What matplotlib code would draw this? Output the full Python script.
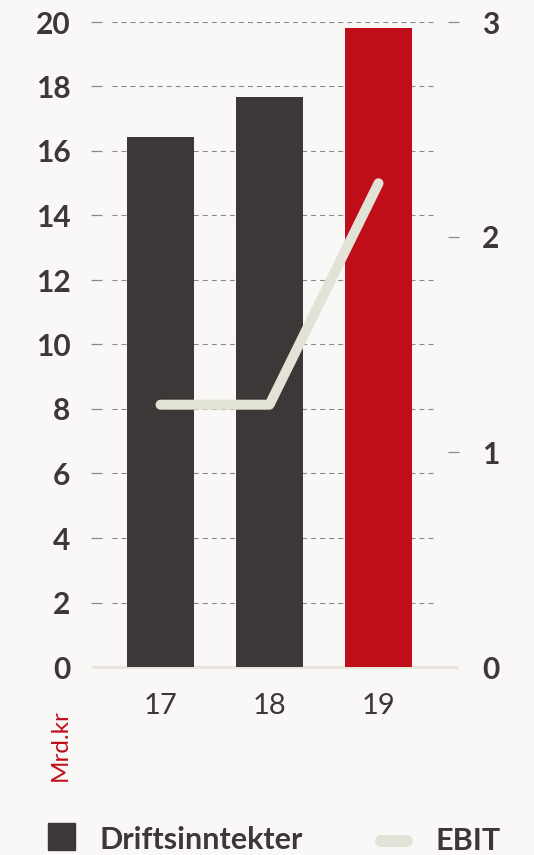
import matplotlib
matplotlib.use("Agg")
import matplotlib.pyplot as plt
from matplotlib.transforms import blended_transform_factory
from matplotlib.patches import Rectangle
from matplotlib.lines import Line2D

# Data
years = ["17", "18", "19"]
revenue = [16.43, 17.67, 19.81]          # Driftsinntekter, Mrd.kr (left axis)
ebit = [1.22, 1.22, 2.25]                # EBIT, Mrd.kr (right axis)
left_ticks = [0, 2, 4, 6, 8, 10, 12, 14, 16, 18, 20]
right_ticks = [0, 1, 2, 3]

BG = "#f9f8f6"
DARK = "#3d3737"
RED = "#c00d1a"
LINE = "#e3e2d6"
GRID = "#8c8a88"
BASE = "#e9e7dd"

plt.rcParams["font.family"] = ["Lato", "DejaVu Sans"]
plt.rcParams["lines.scale_dashes"] = False

W, H = 534, 855
fig = plt.figure(figsize=(W / 100, H / 100), dpi=100, facecolor=BG)

ax_l, ax_r, ax_b, ax_t = 112, 435, 667, 22
ax = fig.add_axes([ax_l / W, (H - ax_b) / H, (ax_r - ax_l) / W, (ax_b - ax_t) / H])
ax.set_facecolor(BG)
ax.set_xlim(-0.445, 2.518)
ax.set_ylim(0, 20)
for s in ax.spines.values():
    s.set_visible(False)

x = list(range(len(years)))
colors = [DARK, DARK, RED]
ax.bar(x, revenue, width=0.615, color=colors, zorder=3)

# dashed gridlines behind the bars
for v in left_ticks[1:]:
    ax.axhline(v, color=GRID, lw=0.8, dashes=(3.6, 2.9), zorder=1)

trans = blended_transform_factory(ax.transAxes, ax.transData)
# short tick dashes on both sides
for v in left_ticks[1:]:
    ax.plot([-0.065, -0.031], [v, v], transform=trans, color=GRID, lw=0.9,
            clip_on=False, solid_capstyle="butt", zorder=1)
for v in right_ticks[1:]:
    ax.plot([1.040, 1.074], [v * 20 / 3, v * 20 / 3], transform=trans, color=GRID,
            lw=0.9, clip_on=False, solid_capstyle="butt", zorder=1)
# baseline
ax.plot([-0.065, 1.071], [0, 0], transform=trans, color=BASE, lw=2.3,
        clip_on=False, solid_capstyle="butt", zorder=2)

ax.set_yticks(left_ticks)
ax.set_yticklabels([str(t) for t in left_ticks], fontsize=21.5, fontweight="bold",
                   color=DARK)
ax.tick_params(axis="y", length=0, pad=30)
ax.set_xticks(x)
ax.set_xticklabels(years, fontsize=21, fontweight="normal", color=DARK)
ax.tick_params(axis="x", length=0, pad=19)

ax2 = ax.twinx()
ax2.set_ylim(0, 3)
ax2.patch.set_visible(False)
for s in ax2.spines.values():
    s.set_visible(False)
ax2.plot(x, ebit, color=LINE, lw=7.2, solid_capstyle="round",
         solid_joinstyle="round", zorder=4)
ax2.set_yticks(right_ticks)
ax2.set_yticklabels([str(t) for t in right_ticks], fontsize=21.5, fontweight="bold",
                    color=DARK)
ax2.tick_params(axis="y", length=0, pad=34)

# unit label
fig.text(60 / W, (H - 745) / H, "Mrd.kr", rotation=90, color=RED, fontsize=17.5,
         ha="center", va="center")

# legend
fig.patches.append(Rectangle((48 / W, (H - 850) / H), 27 / W, 27 / H,
                             transform=fig.transFigure, color=DARK))
fig.text(100 / W, (H - 849) / H, "Driftsinntekter", fontsize=22, fontweight="bold",
         color=DARK, ha="left", va="baseline")
fig.lines.append(Line2D([381 / W, 407 / W], [(H - 841) / H, (H - 841) / H],
                        transform=fig.transFigure, color=LINE, lw=8.6,
                        solid_capstyle="round"))
fig.text(436 / W, (H - 850) / H, "EBIT", fontsize=22, fontweight="bold",
         color=DARK, ha="left", va="baseline")

fig.savefig("out.png", dpi=100, facecolor=BG)
